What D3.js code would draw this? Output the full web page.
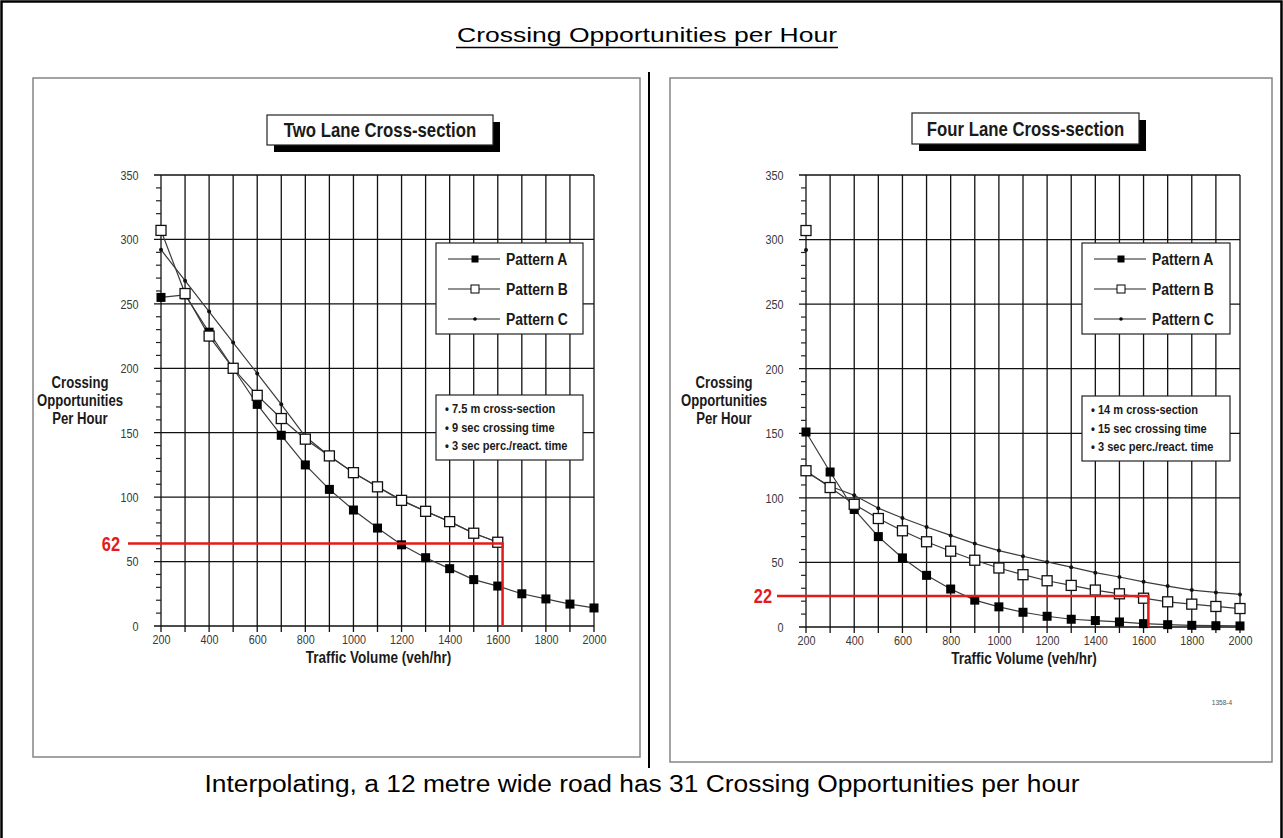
<!DOCTYPE html>
<html>
<head>
<meta charset="utf-8">
<script src="https://cdn.jsdelivr.net/npm/d3@7"></script>
<style>
	body { margin: 0; background: #fff; }
	svg { display: block; }
	text { font-family: 'Liberation Sans', Arial, sans-serif; }
</style>
</head>
<body>
<div id="chart"></div>
<script>
// Data
const volumes = [ 200, 300, 400, 500, 600, 700, 800, 900, 1000, 1100, 1200, 1300, 1400, 1500, 1600, 1700, 1800, 1900, 2000 ];

// Two lane cross-section
const twoLaneA = [ 255, 257, 228, 200, 172, 148, 125, 106, 90, 76, 63, 53, 44.5, 36, 31, 25, 21, 17, 14 ];
const twoLaneB = [ 307, 258, 225, 200, 179, 161, 145, 132, 119, 108, 97.5, 89, 81, 72, 65 ];
const twoLaneC = [ 292, 268, 244, 220, 196, 172, 147, 132, 119, 108, 97.5, 89, 81, 72, 65 ];

// Four lane cross-section
const fourLaneA = [ 151, 120, 91, 70, 53.5, 40, 29.4, 20.8, 15.6, 11.4, 8.3, 6, 5, 3.9, 2.6, 1.8, 1.3, 1, 0.8 ];
const fourLaneB = [ 121, 108, 95, 84, 74.5, 66, 58.7, 51.7, 45.7, 40.5, 35.8, 32.2, 28.6, 25.7, 22.3, 19.5, 17.7, 15.9, 14.3 ];
const fourLaneC = [ 120, 109, 102, 92, 84.4, 77.4, 70.9, 64.6, 59.2, 54.8, 50.4, 46.3, 42.1, 38.7, 35, 31.7, 28.6, 26.8, 25.2 ];
// stray markers left on the four lane chart at 200 veh/hr
const fourLaneStrayB = [ 307 ];
const fourLaneStrayC = [ 292 ];

const xTicks = [ 200, 400, 600, 800, 1000, 1200, 1400, 1600, 1800, 2000 ];
const yTicks = [ 0, 50, 100, 150, 200, 250, 300, 350 ];
const patternNames = [ 'Pattern A', 'Pattern B', 'Pattern C' ];

const twoLaneNotes = [ '7.5 m cross-section', '9 sec crossing time', '3 sec perc./react. time' ];
const fourLaneNotes = [ '14 m cross-section', '15 sec crossing time', '3 sec perc./react. time' ];

// red read-off lines: label, value on the y axis, volume on the x axis
const markLabels = [ '62', '22' ];
const markValues = [ 64, 24 ];
const markVolumes = [ 1620, 1620 ];

const W = 1283, H = 838;
const NARROW = 0.82; // no narrow font installed, so squeeze the glyphs

const svg = d3.select( '#chart' ).append( 'svg' )
	.attr( 'width', W ).attr( 'height', H );

svg.append( 'rect' ).attr( 'width', W ).attr( 'height', H ).attr( 'fill', '#fff' );

// place a squeezed text at x, y
function narrowText( parent, x, y, txt, size, bold, anchor, squeeze ) {
	return parent.append( 'text' )
		.attr( 'transform', `translate(${ x },${ y }) scale(${ squeeze || NARROW },1)` )
		.attr( 'text-anchor', anchor || 'start' )
		.style( 'font-size', size + 'px' )
		.style( 'font-weight', bold ? 'bold' : 'normal' )
		.attr( 'fill', '#1a1a1a' )
		.text( txt );
}

// outer frame (bottom edge falls outside the picture)
svg.append( 'path' )
	.attr( 'd', `M1.5,${ H + 5 }V1.5H${ W - 1.5 }V${ H + 5 }` )
	.attr( 'fill', 'none' ).attr( 'stroke', '#000' ).attr( 'stroke-width', 2.5 );

// page title, underlined
svg.append( 'text' )
	.attr( 'x', 647 ).attr( 'y', 42 )
	.attr( 'text-anchor', 'middle' )
	.attr( 'textLength', 380 ).attr( 'lengthAdjust', 'spacingAndGlyphs' )
	.style( 'font-size', '20px' )
	.text( 'Crossing Opportunities per Hour' );
svg.append( 'line' )
	.attr( 'x1', 647 - 191 ).attr( 'x2', 647 + 191 )
	.attr( 'y1', 47.5 ).attr( 'y2', 47.5 )
	.attr( 'stroke', '#000' ).attr( 'stroke-width', 1.4 );

// divider
svg.append( 'line' )
	.attr( 'x1', 649 ).attr( 'x2', 649 ).attr( 'y1', 72 ).attr( 'y2', 768 )
	.attr( 'stroke', '#000' ).attr( 'stroke-width', 2 );

// bottom note
svg.append( 'text' )
	.attr( 'x', 642 ).attr( 'y', 792 )
	.attr( 'text-anchor', 'middle' )
	.attr( 'textLength', 875 ).attr( 'lengthAdjust', 'spacingAndGlyphs' )
	.style( 'font-size', '23px' )
	.text( 'Interpolating, a 12 metre wide road has 31 Crossing Opportunities per hour' );

function drawPanel( cfg ) {
	const g = svg.append( 'g' );

	// panel frame
	g.append( 'rect' )
		.attr( 'x', cfg.frame[ 0 ] ).attr( 'y', cfg.frame[ 1 ] )
		.attr( 'width', cfg.frame[ 2 ] ).attr( 'height', cfg.frame[ 3 ] )
		.attr( 'fill', '#fff' ).attr( 'stroke', '#858585' ).attr( 'stroke-width', 1.5 );

	const x = d3.scaleLinear().domain( [ 200, 2000 ] ).range( cfg.xRange );
	const y = d3.scaleLinear().domain( [ 0, 350 ] ).range( cfg.yRange );
	const x0 = cfg.xRange[ 0 ], x1 = cfg.xRange[ 1 ];
	const yBottom = cfg.yRange[ 0 ], yTop = cfg.yRange[ 1 ];

	// title box with drop shadow
	const tbx = cfg.titleBox;
	g.append( 'rect' )
		.attr( 'x', tbx[ 0 ] + 7 ).attr( 'y', tbx[ 1 ] + 7 )
		.attr( 'width', tbx[ 2 ] ).attr( 'height', tbx[ 3 ] )
		.attr( 'fill', '#000' );
	g.append( 'rect' )
		.attr( 'x', tbx[ 0 ] ).attr( 'y', tbx[ 1 ] )
		.attr( 'width', tbx[ 2 ] ).attr( 'height', tbx[ 3 ] )
		.attr( 'fill', '#fff' ).attr( 'stroke', '#222' ).attr( 'stroke-width', 1.2 );
	narrowText( g, tbx[ 0 ] + tbx[ 2 ] / 2, tbx[ 1 ] + tbx[ 3 ] / 2 + 7, cfg.title, 19.5, true, 'middle', 0.86 );

	// vertical grid lines every 100 veh/hr, running a little below the axis
	g.append( 'g' ).selectAll( 'line' )
		.data( d3.range( 200, 2001, 100 ) )
		.join( 'line' )
		.attr( 'x1', ( d ) => x( d ) ).attr( 'x2', ( d ) => x( d ) )
		.attr( 'y1', yTop ).attr( 'y2', yBottom + 6 )
		.attr( 'stroke', '#111' ).attr( 'stroke-width', 1.3 );

	// horizontal grid lines every 50
	g.append( 'g' ).selectAll( 'line' )
		.data( yTicks )
		.join( 'line' )
		.attr( 'x1', x0 - 7 ).attr( 'x2', x1 )
		.attr( 'y1', ( d ) => y( d ) ).attr( 'y2', ( d ) => y( d ) )
		.attr( 'stroke', '#111' ).attr( 'stroke-width', 1.3 );

	// minor ticks every 10
	g.append( 'g' ).selectAll( 'line' )
		.data( d3.range( 10, 350, 10 ).filter( ( d ) => d % 50 !== 0 ) )
		.join( 'line' )
		.attr( 'x1', x0 - 5 ).attr( 'x2', x0 )
		.attr( 'y1', ( d ) => y( d ) ).attr( 'y2', ( d ) => y( d ) )
		.attr( 'stroke', '#222' ).attr( 'stroke-width', 1.2 );

	// tick labels through d3 axes
	const xAxis = g.append( 'g' )
		.attr( 'transform', `translate(0,${ yBottom + 5 })` )
		.call( d3.axisBottom( x ).tickValues( xTicks ).tickSize( 0 ).tickFormat( d3.format( 'd' ) ) );
	const yAxis = g.append( 'g' )
		.attr( 'transform', `translate(${ x0 - 20 },0)` )
		.call( d3.axisLeft( y ).tickValues( yTicks ).tickSize( 0 ).tickFormat( d3.format( 'd' ) ) );
	[ xAxis, yAxis ].forEach( ( a ) => {
		a.select( '.domain' ).remove();
		a.selectAll( 'text' )
			.attr( 'transform', `scale(0.8,1)` )
			.style( 'font-family', 'Liberation Sans, Arial, sans-serif' )
			.style( 'font-size', '13.5px' )
			.attr( 'fill', '#383838' );
	} );

	// axis titles
	narrowText( g, ( x0 + x1 ) / 2 + 1, yBottom + 37, 'Traffic Volume (veh/hr)', 16.5, true, 'middle' );
	const yTitle = g.append( 'text' )
		.attr( 'transform', `translate(${ cfg.yTitleX },0) scale(${ NARROW },1)` )
		.attr( 'text-anchor', 'middle' )
		.style( 'font-size', '16px' ).style( 'font-weight', 'bold' ).attr( 'fill', '#1a1a1a' );
	yTitle.selectAll( 'tspan' )
		.data( [ 'Crossing', 'Opportunities', 'Per Hour' ] )
		.join( 'tspan' )
		.attr( 'x', 0 )
		.attr( 'y', ( d, i ) => 388 + i * 18 )
		.text( ( d ) => d );

	// legend box
	const lb = cfg.legendBox;
	const legend = g.append( 'g' );
	legend.append( 'rect' )
		.attr( 'x', lb[ 0 ] ).attr( 'y', lb[ 1 ] ).attr( 'width', lb[ 2 ] ).attr( 'height', lb[ 3 ] )
		.attr( 'fill', '#fff' ).attr( 'stroke', '#222' ).attr( 'stroke-width', 1.2 );
	const rows = legend.selectAll( 'g' )
		.data( patternNames )
		.join( 'g' )
		.attr( 'transform', ( d, i ) => `translate(${ lb[ 0 ] },${ lb[ 1 ] + 16 + i * 30 })` );
	rows.append( 'line' )
		.attr( 'x1', 12 ).attr( 'x2', 64 )
		.attr( 'stroke', '#222' ).attr( 'stroke-width', 1.2 );
	rows.each( function( d ) {
		narrowText( d3.select( this ), 70, 6, d, 17, true, 'start' );
	} );
	rows.filter( ( d, i ) => i === 0 ).append( 'rect' )
		.attr( 'x', 35.5 ).attr( 'y', -3.5 ).attr( 'width', 7 ).attr( 'height', 7 ).attr( 'fill', '#000' );
	rows.filter( ( d, i ) => i === 1 ).append( 'rect' )
		.attr( 'x', 35 ).attr( 'y', -4 ).attr( 'width', 8 ).attr( 'height', 8 )
		.attr( 'fill', '#fff' ).attr( 'stroke', '#000' ).attr( 'stroke-width', 1 );
	rows.filter( ( d, i ) => i === 2 ).append( 'circle' )
		.attr( 'cx', 39 ).attr( 'r', 1.8 ).attr( 'fill', '#000' );

	// notes box
	const nb = cfg.notesBox;
	g.append( 'rect' )
		.attr( 'x', nb[ 0 ] ).attr( 'y', nb[ 1 ] ).attr( 'width', nb[ 2 ] ).attr( 'height', nb[ 3 ] )
		.attr( 'fill', '#fff' ).attr( 'stroke', '#222' ).attr( 'stroke-width', 1.2 );
	cfg.notes.forEach( ( d, i ) => {
		narrowText( g, nb[ 0 ] + 9, nb[ 1 ] + 18 + i * 18.5, '\u2022 ' + d, 13.5, true, 'start' );
	} );

	// series
	const line = d3.line().x( ( d ) => x( d[ 0 ] ) ).y( ( d ) => y( d[ 1 ] ) );
	const pts = ( vals ) => vals.map( ( v, i ) => [ volumes[ i ], v ] );
	const series = [
		{ data: pts( cfg.c ), kind: 'c' },
		{ data: pts( cfg.a ), kind: 'a' },
		{ data: pts( cfg.b ), kind: 'b' },
	];
	series.forEach( ( s ) => {
		g.append( 'path' )
			.datum( s.data )
			.attr( 'fill', 'none' ).attr( 'stroke', '#3a3a3a' ).attr( 'stroke-width', 1.2 )
			.attr( 'd', line );
	} );
	series.forEach( ( s ) => {
		const m = g.append( 'g' ).selectAll( '*' ).data( s.data );
		if ( s.kind === 'a' ) {
			m.join( 'rect' )
				.attr( 'x', ( d ) => x( d[ 0 ] ) - 4.5 ).attr( 'y', ( d ) => y( d[ 1 ] ) - 4.5 )
				.attr( 'width', 9 ).attr( 'height', 9 ).attr( 'fill', '#000' );
		} else if ( s.kind === 'b' ) {
			m.join( 'rect' )
				.attr( 'x', ( d ) => x( d[ 0 ] ) - 5 ).attr( 'y', ( d ) => y( d[ 1 ] ) - 5 )
				.attr( 'width', 10 ).attr( 'height', 10 )
				.attr( 'fill', '#fff' ).attr( 'stroke', '#111' ).attr( 'stroke-width', 1.3 );
		} else {
			m.join( 'circle' )
				.attr( 'cx', ( d ) => x( d[ 0 ] ) ).attr( 'cy', ( d ) => y( d[ 1 ] ) )
				.attr( 'r', 2 ).attr( 'fill', '#111' );
		}
	} );

	// stray markers
	( cfg.strayB || [] ).forEach( ( v ) => {
		g.append( 'rect' )
			.attr( 'x', x( 200 ) - 5 ).attr( 'y', y( v ) - 5 ).attr( 'width', 10 ).attr( 'height', 10 )
			.attr( 'fill', '#fff' ).attr( 'stroke', '#111' ).attr( 'stroke-width', 1.3 );
	} );
	( cfg.strayC || [] ).forEach( ( v ) => {
		g.append( 'circle' ).attr( 'cx', x( 200 ) ).attr( 'cy', y( v ) ).attr( 'r', 2 ).attr( 'fill', '#111' );
	} );

	// red read-off line
	const mv = markValues[ cfg.mark ], mx = markVolumes[ cfg.mark ];
	g.append( 'path' )
		.attr( 'd', `M${ x0 - cfg.markLead },${ y( mv ) }H${ x( mx ) }V${ y( 0 ) }` )
		.attr( 'fill', 'none' ).attr( 'stroke', '#e31b1b' ).attr( 'stroke-width', 2.5 );
	narrowText( g, x0 - cfg.markLead - cfg.markGap, y( mv ) + 7, markLabels[ cfg.mark ], 20, true, 'end' )
		.attr( 'fill', '#e31b1b' );
}

drawPanel( {
	frame: [ 33, 78, 607, 679 ],
	xRange: [ 161, 594 ],
	yRange: [ 626, 175 ],
	title: 'Two Lane Cross-section',
	titleBox: [ 267, 115, 226, 30 ],
	yTitleX: 80,
	legendBox: [ 436, 243, 147, 91 ],
	notesBox: [ 436, 395, 147, 65 ],
	notes: twoLaneNotes,
	a: twoLaneA, b: twoLaneB, c: twoLaneC,
	mark: 0, markLead: 33, markGap: 8,
} );

drawPanel( {
	frame: [ 670, 78, 602, 684 ],
	xRange: [ 806, 1240 ],
	yRange: [ 627, 175 ],
	title: 'Four Lane Cross-section',
	titleBox: [ 912, 113, 227, 31 ],
	yTitleX: 724,
	legendBox: [ 1082, 243, 148, 91 ],
	notesBox: [ 1082, 396, 148, 65 ],
	notes: fourLaneNotes,
	a: fourLaneA, b: fourLaneB, c: fourLaneC,
	strayB: fourLaneStrayB, strayC: fourLaneStrayC,
	mark: 1, markLead: 29, markGap: 5,
} );

narrowText( svg, 1222, 705, '1358-4', 8, false, 'middle' ).attr( 'fill', '#555' );
</script>
</body>
</html>
